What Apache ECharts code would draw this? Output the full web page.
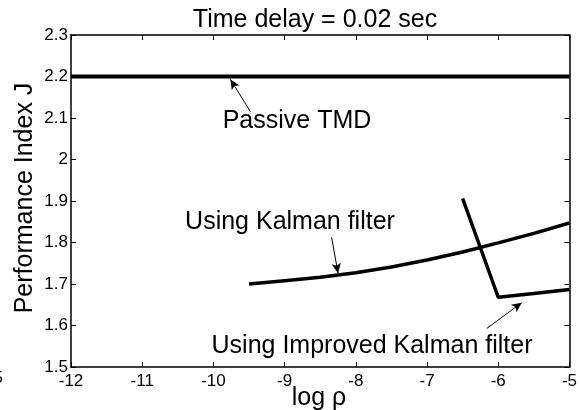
<!DOCTYPE html>
<html>
<head>
<meta charset="utf-8">
<script src="https://cdn.jsdelivr.net/npm/echarts@6/dist/echarts.min.js"></script>
<style>
html,body{margin:0;padding:0;background:#fff;}
#c{width:580px;height:410px;}
</style>
</head>
<body>
<div id="c"></div>
<script>
// ---- data ----
var xTicks = [-12, -11, -10, -9, -8, -7, -6, -5];
var yTicks = [1.5, 1.6, 1.7, 1.8, 1.9, 2.0, 2.1, 2.2, 2.3];

var passiveX = [-12, -5];
var passiveJ = [2.2, 2.2];

var kalmanX = [-9.5, -9, -8.5, -8, -7.5, -7, -6.5, -6, -5.5, -5];
var kalmanJ = [1.700, 1.708, 1.716, 1.727, 1.741, 1.758, 1.777, 1.799, 1.822, 1.847];

var improvedX = [-6.5, -6, -5.5, -5];
var improvedJ = [1.906, 1.668, 1.677, 1.687];

// annotation arrows: [tailX, tailJ, headX, headJ]
var arrowPassive = [-9.48, 2.115, -9.76, 2.193];
var arrowKalman = [-8.34, 1.8125, -8.25, 1.726];
var arrowImproved = [-6.16, 1.593, -5.67, 1.655];

function pairs(xs, ys) { return xs.map(function (x, i) { return [x, ys[i]]; }); }
function arrow(a) { return [{ coord: [a[0], a[1]] }, { coord: [a[2], a[3]] }]; }

var FONT = 'Liberation Sans, Arial, sans-serif';
var chart = echarts.init(document.getElementById('c'), null, { renderer: 'canvas' });

var axisCommon = {
  type: 'value',
  axisLine: { show: true, onZero: false, lineStyle: { color: '#000', width: 1.5 } },
  axisTick: { show: true, inside: true, length: 5, lineStyle: { color: '#000', width: 1 } },
  splitLine: { show: false }
};

var option = {
  animation: false,
  backgroundColor: '#fff',
  grid: { left: 71, right: 7, top: 35, bottom: 43, containLabel: false },
  xAxis: [
    Object.assign({}, axisCommon, {
      min: xTicks[0], max: xTicks[xTicks.length - 1], interval: 1, position: 'bottom',
      axisLabel: { color: '#000', fontSize: 17, fontFamily: FONT, margin: 6 }
    }),
    Object.assign({}, axisCommon, {
      min: xTicks[0], max: xTicks[xTicks.length - 1], interval: 1, position: 'top',
      axisLabel: { show: false }
    })
  ],
  yAxis: [
    Object.assign({}, axisCommon, {
      min: yTicks[0], max: yTicks[yTicks.length - 1], interval: 0.1, position: 'left',
      axisLabel: { color: '#000', fontSize: 17, fontFamily: FONT, margin: 3,
        formatter: function (v) { return String(Math.round(v * 10) / 10); } }
    }),
    Object.assign({}, axisCommon, {
      min: yTicks[0], max: yTicks[yTicks.length - 1], interval: 0.1, position: 'right',
      axisLabel: { show: false }
    })
  ],
  series: [
    {
      name: 'Passive TMD', type: 'line', data: pairs(passiveX, passiveJ),
      showSymbol: false, lineStyle: { color: '#000', width: 4 }, silent: true,
      markLine: {
        silent: true, animation: false,
        symbol: ['none', 'arrow'], symbolSize: [7, 10],
        label: { show: false },
        lineStyle: { color: '#000', width: 1, type: 'solid' },
        emphasis: { disabled: true },
        data: [arrow(arrowPassive), arrow(arrowKalman), arrow(arrowImproved)]
      }
    },
    {
      name: 'Using Kalman filter', type: 'line', data: pairs(kalmanX, kalmanJ),
      showSymbol: false, lineStyle: { color: '#000', width: 3.5 }, silent: true
    },
    {
      name: 'Using Improved Kalman filter', type: 'line', data: pairs(improvedX, improvedJ),
      showSymbol: false, lineStyle: { color: '#000', width: 3.5 }, silent: true
    }
  ],
  graphic: [
    { type: 'text', x: 315, y: 20, style: { text: 'Time delay = 0.02 sec', fill: '#000', font: '25px ' + FONT, textAlign: 'center', textVerticalAlign: 'middle' } },
    { type: 'text', x: 297, y: 121, style: { text: 'Passive TMD', fill: '#000', font: '25px ' + FONT, textAlign: 'center', textVerticalAlign: 'middle' } },
    { type: 'text', x: 290, y: 222, style: { text: 'Using Kalman filter', fill: '#000', font: '25px ' + FONT, textAlign: 'center', textVerticalAlign: 'middle' } },
    { type: 'text', x: 372, y: 346, style: { text: 'Using Improved Kalman filter', fill: '#000', font: '25px ' + FONT, textAlign: 'center', textVerticalAlign: 'middle' } },
    { type: 'text', x: 319, y: 398, style: { text: 'log ρ', fill: '#000', font: '25px ' + FONT, textAlign: 'center', textVerticalAlign: 'middle' } },
    { type: 'text', x: 25, y: 198, rotation: Math.PI / 2, style: { text: 'Performance Index J', fill: '#000', font: '25px ' + FONT, textAlign: 'center', textVerticalAlign: 'middle' } },
    { type: 'text', x: 3, y: 378, style: { text: '5', fill: '#000', font: '17px ' + FONT, textAlign: 'right', textVerticalAlign: 'middle' } }
  ]
};
chart.setOption(option);
</script>
</body>
</html>
